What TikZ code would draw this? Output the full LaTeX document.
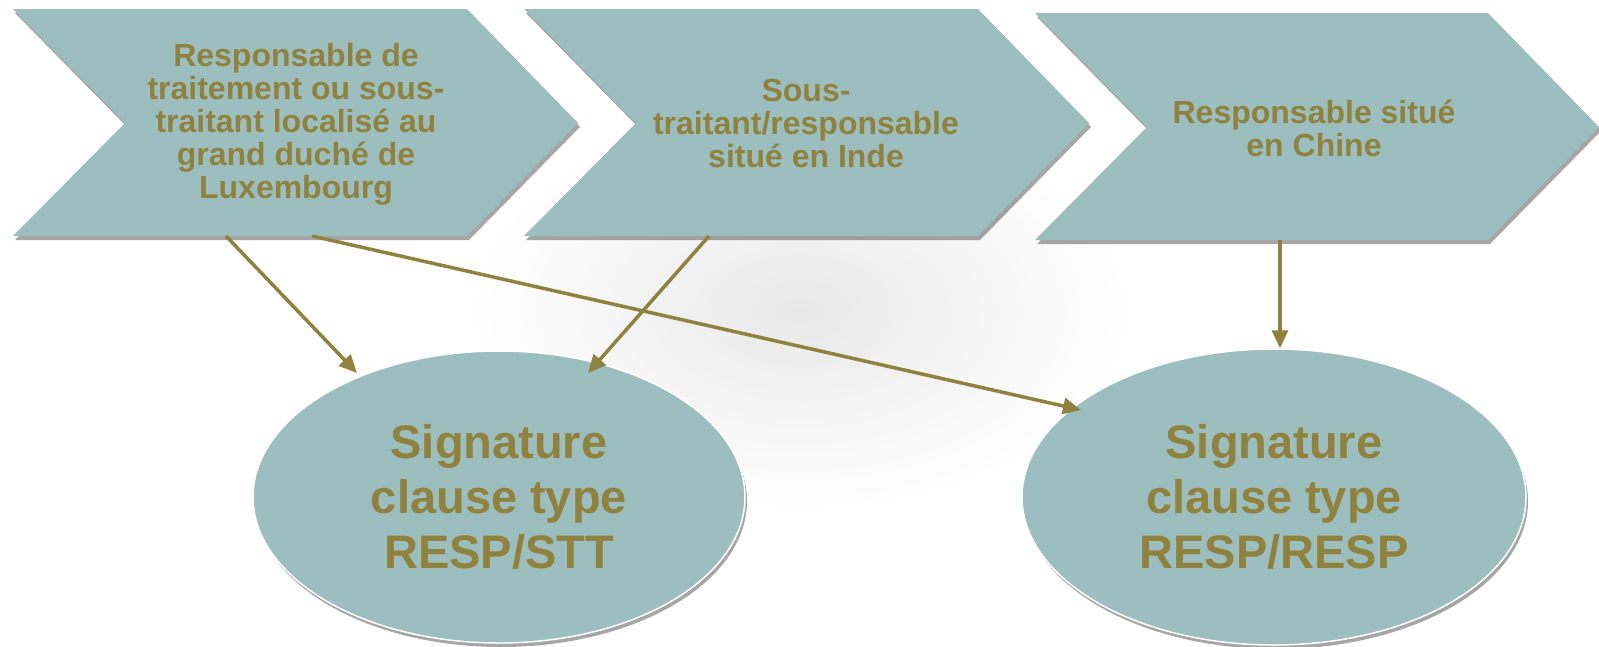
\documentclass[tikz,border=0pt]{standalone}
\usepackage{fontspec}
\setmainfont{Liberation Sans}
\usetikzlibrary{shapes.geometric,arrows.meta,shadows,calc}
\definecolor{chev}{RGB}{157,190,191}
\definecolor{txtolive}{RGB}{142,130,62}
\begin{document}
\begin{tikzpicture}[x=1pt,y=-1pt,
  chevshape/.style={fill=chev, drop shadow={shadow xshift=2pt,shadow yshift=-4pt,opacity=0.35,fill=black}},
  chevtext/.style={font=\fontsize{32}{33}\selectfont\bfseries, text=txtolive, align=center, inner sep=0pt},
  ovalnode/.style={ellipse, fill=chev, draw=white, line width=1.5pt, inner sep=0pt,
    font=\fontsize{47}{55}\selectfont\bfseries, text=txtolive, align=center,
    drop shadow={shadow xshift=2pt,shadow yshift=-4pt,opacity=0.35,fill=black}},
  link/.style={draw=txtolive, line width=3.5pt, -{Triangle[length=18pt,width=16pt]}}
]
\useasboundingbox (0,0) rectangle (1599,646);
\fill[white] (0,0) rectangle (1599,646);
% soft background reflection
\shade[inner color=black!9, outer color=white] (800,310) ellipse [x radius=330pt, y radius=200pt];

% chevrons
\path[chevshape] (13,9) -- (467,9) -- (578,123) -- (467,236) -- (13,236) -- (125,123) -- cycle;
\path[chevshape] (524,9) -- (978,9) -- (1089,123) -- (978,236) -- (524,236) -- (636,123) -- cycle;
\path[chevshape] (1035,13) -- (1488,13) -- (1599,127) -- (1488,240) -- (1035,240) -- (1147,127) -- cycle;

\node[chevtext] (c1) at (296,124) {Responsable de\\traitement ou sous-\\traitant localisé au\\grand duché de\\Luxembourg};
\node[chevtext] (c2) at (806,123) {Sous-\\traitant/responsable\\situé en Inde};
\node[chevtext] (c3) at (1314,128) {Responsable situé\\en Chine};

% ellipses
\node[ovalnode, minimum width=492pt, minimum height=292pt] (e1) at (499,497) {Signature\\clause type\\RESP/STT};
\node[ovalnode, minimum width=504pt, minimum height=296pt] (e2) at (1274,497) {Signature\\clause type\\RESP/RESP};

% connectors
\coordinate (s1) at (226,236);
\coordinate (s2) at (709,236);
\coordinate (s3) at (312,236);
\coordinate (s4) at (1280,240);
\draw[link] (s1) -- ($(e1.center)+(-142,-124)$);
\draw[link] (s2) -- ($(e1.center)+(89,-124)$);
\draw[link] (s3) -- ($(e2.center)+(-193,-87)$);
\draw[link] (s4) -- (s4 |- e2.north);
\end{tikzpicture}
\end{document}
